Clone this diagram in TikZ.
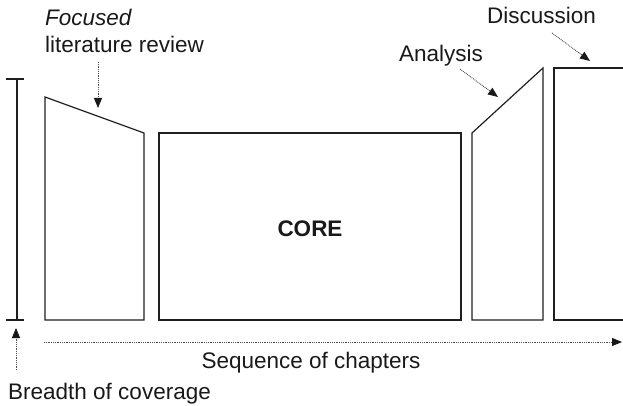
\documentclass[tikz,border=0pt]{standalone}
\usepackage{fontspec}
\setmainfont{Liberation Sans}
\usetikzlibrary{arrows.meta}
\begin{document}
\begin{tikzpicture}[x=1pt,y=-1pt,
  chap/.style={draw=black!88, line width=1.2pt, line join=miter},
  dotarrow/.style={draw=black!70, line width=0.9pt, dash pattern=on 0.9pt off 0.9pt,
    -{Triangle[length=10pt,width=8pt,color=black!90,fill=black!90]}},
  lbl/.style={inner sep=0pt, font=\fontsize{22.5}{26}\selectfont, text=black!90}]
\clip (0,0) rectangle (623,406);
% breadth bar
\draw[chap] (17,79) -- (17,320);
\draw[chap] (6,79) -- (24,79);
\draw[chap] (6,320) -- (24,320);
% chapters
\draw[chap] (45,97) -- (144,133) -- (144,320) -- (45,320) -- cycle;
\draw[chap] (159,133) rectangle (461,320);
\draw[chap] (472,320) -- (472,133) -- (543,68) -- (543,320) -- cycle;
\draw[chap] (630,68) -- (554,68) -- (554,320) -- (630,320);
% labels
\node[lbl, anchor=base west] (foc) at (45,26) {\itshape Focused};
\node[lbl, anchor=base west] (lit) at (45,53) {literature review};
\node[lbl, anchor=base west] (ana) at (399,62) {Analysis};
\node[lbl, anchor=base west] (dis) at (487,24) {Discussion};
\node[lbl, font=\fontsize{22.5}{26}\selectfont\bfseries] (core) at (310,229) {CORE};
\node[lbl, anchor=base] (seq) at (311,368) {Sequence of chapters};
\node[lbl, anchor=base west] (bre) at (8,399) {Breadth of coverage};
% arrow endpoints
\coordinate (litS) at (98,62);
\coordinate (litE) at (98,108);
\coordinate (anaS) at (460,69);
\coordinate (anaE) at (498,97);
\coordinate (disS) at (552,33);
\coordinate (disE) at (590,61);
\coordinate (seqS) at (44,342);
\coordinate (seqE) at (622,342);
\coordinate (breS) at (16,370);
\coordinate (breE) at (16,328);
\draw[dotarrow] (litS) -- (litE);
\draw[dotarrow] (anaS) -- (anaE);
\draw[dotarrow] (disS) -- (disE);
\draw[dotarrow] (seqS) -- (seqE);
\draw[dotarrow] (breS) -- (breE);
\end{tikzpicture}
\end{document}
